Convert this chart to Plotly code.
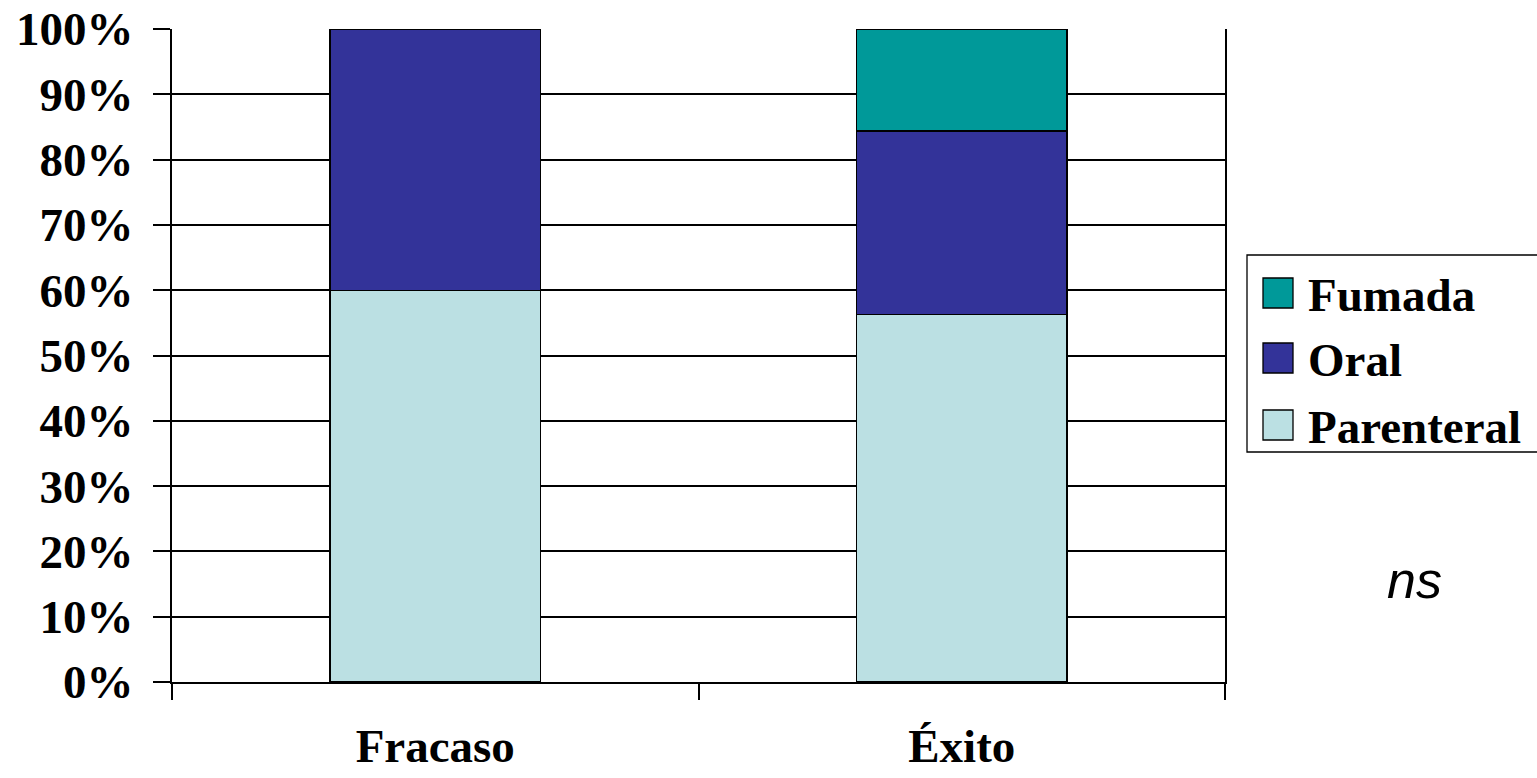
import plotly.graph_objects as go

# Distribution of consumption route by outcome (percent of patients)
categories = ["Fracaso", "Éxito"]
series_names = ["Parenteral", "Oral", "Fumada"]
parenteral = [60.0, 56.25]
oral = [40.0, 28.125]
fumada = [0.0, 15.625]
y_ticks = list(range(0, 101, 10))
y_tick_labels = [f"{v}%" for v in y_ticks]

colors = {"Parenteral": "#BBE0E3", "Oral": "#333399", "Fumada": "#009999"}
values = {"Parenteral": parenteral, "Oral": oral, "Fumada": fumada}

W, H = 1537, 778
L, R, T, B = 172, 312, 29, 96
plot_w = W - L - R
plot_h = H - T - B

serif = "Liberation Serif, Times New Roman, serif"

fig = go.Figure()
for name in series_names:
    fig.add_trace(go.Bar(
        x=categories, y=values[name], name=name,
        marker=dict(color=colors[name], line=dict(color="#000000", width=1.3)),
        showlegend=False,
    ))


def px_x(p):
    return (p - L) / plot_w


def px_y(p):
    return (H - B - p) / plot_h


shapes = []
annotations = []

# Legend frame (runs off the right edge of the canvas)
shapes.append(dict(type="rect", xref="paper", yref="paper",
                   x0=px_x(1247), x1=px_x(1560), y0=px_y(452), y1=px_y(255),
                   line=dict(color="#000000", width=1.3), fillcolor="rgba(0,0,0,0)"))

legend_order = ["Fumada", "Oral", "Parenteral"]
centers = [293, 358, 425]
for name, cy in zip(legend_order, centers):
    shapes.append(dict(type="rect", xref="paper", yref="paper",
                       x0=px_x(1263), x1=px_x(1293), y0=px_y(cy + 15), y1=px_y(cy - 15),
                       line=dict(color="#000000", width=1.3), fillcolor=colors[name]))
    annotations.append(dict(x=px_x(1306), y=px_y(cy + 2), xref="paper", yref="paper",
                            text=f"<b>{name}</b>", showarrow=False,
                            xanchor="left", yanchor="middle",
                            font=dict(family=serif, size=47, color="#000000")))

annotations.append(dict(x=px_x(1414), y=px_y(580), xref="paper", yref="paper",
                        text="<i>ns</i>", showarrow=False,
                        xanchor="center", yanchor="middle",
                        font=dict(family="Liberation Sans, Arial, sans-serif", size=52,
                                  color="#000000")))

fig.update_layout(
    barmode="stack",
    bargap=0.6,
    width=W, height=H,
    margin=dict(l=L, r=R, t=T, b=B, pad=0, autoexpand=False),
    plot_bgcolor="#FFFFFF",
    paper_bgcolor="#FFFFFF",
    shapes=shapes,
    annotations=annotations,
    xaxis=dict(
        type="category",
        automargin=False,
        showline=True, linecolor="#000000", linewidth=2,
        ticks="outside", ticklen=16, tickcolor="#000000", tickwidth=1.5,
        tickson="boundaries",
        showgrid=False,
        tickfont=dict(family=serif, size=47, color="#000000"),
        tickprefix="<b>", ticksuffix="</b>",
        ticklabelstandoff=22,
    ),
    yaxis=dict(
        range=[0, 100],
        automargin=False,
        tickvals=y_ticks, ticktext=[f"<b>{t}</b>" for t in y_tick_labels],
        showline=True, linecolor="#000000", linewidth=2,
        mirror=True,
        ticks="outside", ticklen=17, tickcolor="#000000", tickwidth=1.5,
        showgrid=True, gridcolor="#000000", gridwidth=1.5,
        zeroline=False,
        tickfont=dict(family=serif, size=47, color="#000000"),
        ticklabelstandoff=10,
    ),
)

fig.write_html("out.html")
